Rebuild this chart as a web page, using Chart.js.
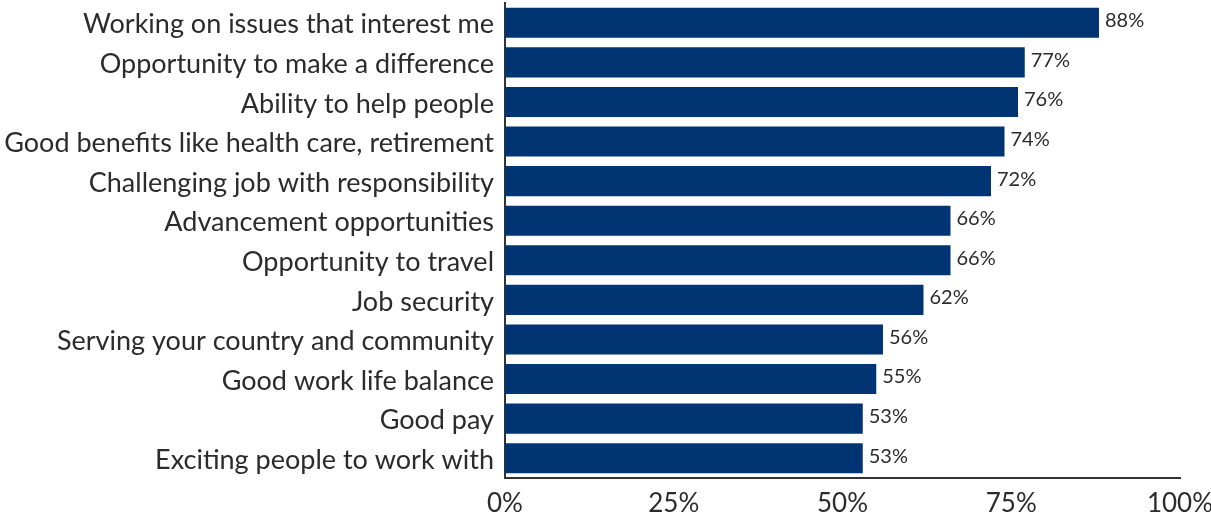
<!DOCTYPE html>
<html>
<head>
<meta charset="utf-8">
<script src="https://cdn.jsdelivr.net/npm/chart.js@4/dist/chart.umd.min.js"></script>
<style>
  html, body { margin: 0; padding: 0; background: #fff; }
  #wrap { width: 1211px; height: 519px; position: relative; }
</style>
</head>
<body>
<div id="wrap"><canvas id="c"></canvas></div>
<script>
const categories = [
  "Working on issues that interest me",
  "Opportunity to make a difference",
  "Ability to help people",
  "Good benefits like health care, retirement",
  "Challenging job with responsibility",
  "Advancement opportunities",
  "Opportunity to travel",
  "Job security",
  "Serving your country and community",
  "Good work life balance",
  "Good pay",
  "Exciting people to work with"
];
const shares = [88, 77, 76, 74, 72, 66, 66, 62, 56, 55, 53, 53];
const xTicks = [0, 25, 50, 75, 100];

const FONT = "Lato, 'Open Sans', sans-serif";
const TEXT = '#2b2b2b';

// Percentage written just past the end of each bar
const valueLabels = {
  id: 'valueLabels',
  afterDatasetsDraw(chart) {
    const ctx = chart.ctx;
    const meta = chart.getDatasetMeta(0);
    ctx.save();
    ctx.font = '20px ' + FONT;
    ctx.fillStyle = TEXT;
    ctx.textAlign = 'left';
    ctx.textBaseline = 'middle';
    meta.data.forEach((bar, i) => {
      const v = chart.data.datasets[0].data[i];
      ctx.fillText(v + '%', bar.x + 6, bar.y - 2);
    });
    ctx.restore();
  }
};

new Chart(document.getElementById('c'), {
  type: 'bar',
  data: {
    labels: categories,
    datasets: [{
      data: shares,
      backgroundColor: '#003473',
      borderWidth: 0,
      barPercentage: 0.76,
      categoryPercentage: 1.0
    }]
  },
  options: {
    indexAxis: 'y',
    responsive: true,
    maintainAspectRatio: false,
    animation: false,
    layout: { padding: { top: 3, right: 31, bottom: 0, left: 0 } },
    plugins: { legend: { display: false }, tooltip: { enabled: false } },
    scales: {
      x: {
        min: 0, max: 100,
        afterBuildTicks(scale) { scale.ticks = xTicks.map(v => ({ value: v })); },
        afterFit(scale) {
          scale.height = 41;
          scale.paddingLeft = 0;
          scale.paddingRight = 0;
        },
        grid: { display: false, drawTicks: false },
        border: { display: true, color: '#333', width: 2 },
        ticks: {
          padding: 10,
          color: TEXT,
          font: { family: FONT, size: 26 },
          maxRotation: 0,
          callback: v => v + '%'
        }
      },
      y: {
        afterFit(scale) {
          scale.width = 505;
          scale.paddingTop = 0;
          scale.paddingBottom = 0;
        },
        grid: { display: false, drawTicks: false },
        border: { display: true, color: '#333', width: 2 },
        ticks: {
          padding: 11,
          labelOffset: 2,
          color: TEXT,
          font: { family: FONT, size: 27 },
          autoSkip: false
        }
      }
    }
  },
  plugins: [valueLabels]
});
</script>
</body>
</html>
